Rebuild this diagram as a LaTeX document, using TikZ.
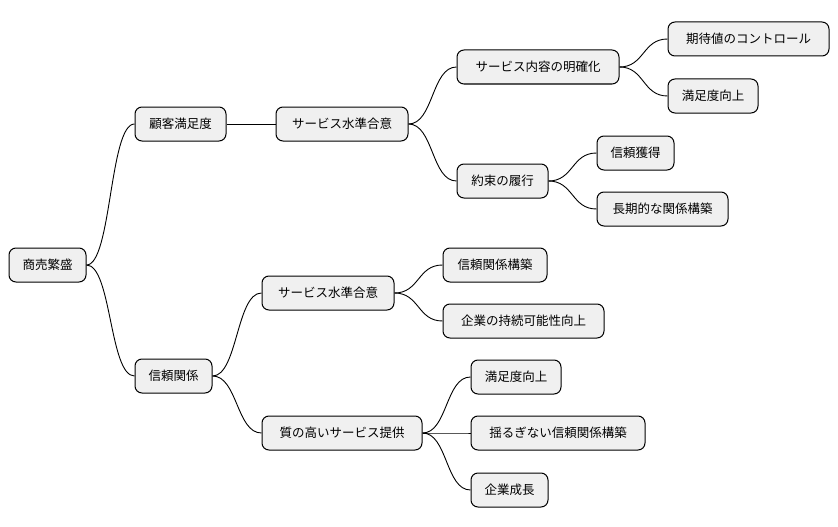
\documentclass[tikz,border=0pt]{standalone}
\usepackage{fontspec}
\newfontfamily\cjk{Noto Sans CJK JP}
\begin{document}
\begin{tikzpicture}[x=1pt,y=-1pt,
 box/.style={draw=black,line width=1pt,fill=black!6,rounded corners=7pt,minimum height=34pt,inner xsep=2pt,font=\cjk\fontsize{12.5pt}{14pt}\selectfont},
 ln/.style={line width=0.9pt}]
\useasboundingbox (0,0) rectangle (838,527);
\newcommand\bx[5]{\node[box,minimum width=#4] (#1) at (#2,#3) {#5};}
\bx{r}{47.5}{265}{77pt}{商売繁盛}
\bx{a}{180.5}{124}{91pt}{顧客満足度}
\bx{b}{173.5}{376}{77pt}{信頼関係}
\bx{a1}{342}{124}{132pt}{サービス水準合意}
\bx{a11}{538}{67}{162pt}{サービス内容の明確化}
\bx{a12}{502.5}{181}{91pt}{約束の履行}
\bx{a111}{748.5}{39}{161pt}{期待値のコントロール}
\bx{a112}{713}{96}{90pt}{満足度向上}
\bx{a121}{635.5}{153}{77pt}{信頼獲得}
\bx{a122}{662.5}{209}{131pt}{長期的な関係構築}
\bx{b1}{328}{293}{132pt}{サービス水準合意}
\bx{b2}{342}{433}{160pt}{質の高いサービス提供}
\bx{b11}{495}{265}{104pt}{信頼関係構築}
\bx{b12}{523.5}{321}{161pt}{企業の持続可能性向上}
\bx{b21}{516}{377}{90pt}{満足度向上}
\bx{b22}{558}{433}{174pt}{揺るぎない信頼関係構築}
\bx{b23}{509.5}{490}{77pt}{企業成長}
\foreach \p/\c in {r/a,r/b,a/a1,a1/a11,a1/a12,a11/a111,a11/a112,a12/a121,a12/a122,b/b1,b/b2,b1/b11,b1/b12,b2/b21,b2/b22,b2/b23}
  \draw[ln] (\p.east) .. controls +(25,0) and +(-25,0) .. (\c.west);
\end{tikzpicture}
\end{document}
